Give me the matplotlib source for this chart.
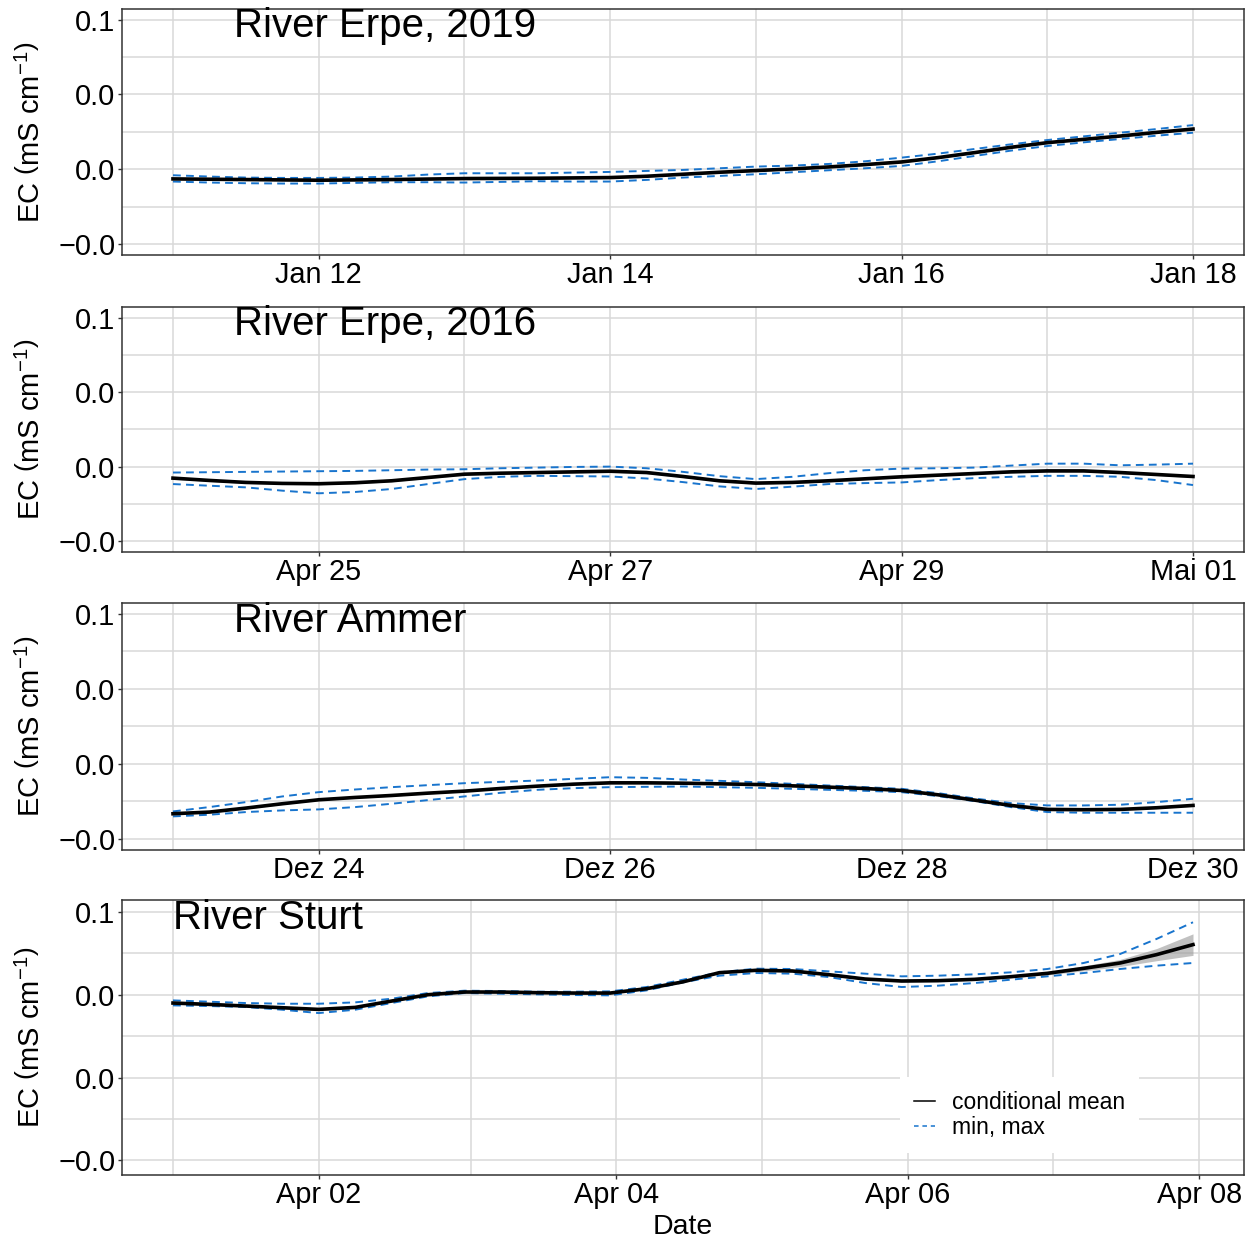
import matplotlib
matplotlib.use("Agg")
import matplotlib.pyplot as plt
from matplotlib.lines import Line2D

plt.rcParams["font.family"] = ["Liberation Sans", "DejaVu Sans"]
plt.rcParams["mathtext.fontset"] = "custom"
plt.rcParams["mathtext.rm"] = "Liberation Sans"
plt.rcParams["mathtext.it"] = "Liberation Sans:italic"
plt.rcParams["mathtext.bf"] = "Liberation Sans:bold"

# ---- time axis: hours since start of each record, 6-hourly values ----
hours = [0, 6, 12, 18, 24, 30, 36, 42, 48, 54, 60, 66, 72, 78, 84, 90, 96,
         102, 108, 114, 120, 126, 132, 138, 144, 150, 156, 162, 168]

# ---- River Erpe, 2019 ----
erpe19_mean = [-0.00387, -0.00400, -0.00413, -0.00427, -0.00440, -0.00427, -0.00413, -0.00393,
               -0.00373, -0.00367, -0.00360, -0.00347, -0.00333, -0.00280, -0.00200, -0.00120,
               -0.00053, 0.00013, 0.00093, 0.00187, 0.00293, 0.00467, 0.00667, 0.00880,
               0.01067, 0.01200, 0.01333, 0.01480, 0.01613]
erpe19_max = [-0.00240, -0.00293, -0.00333, -0.00347, -0.00347, -0.00333, -0.00293, -0.00213,
              -0.00160, -0.00160, -0.00160, -0.00133, -0.00107, -0.00067, -0.00027, 0.00040,
              0.00107, 0.00147, 0.00213, 0.00320, 0.00467, 0.00627, 0.00813, 0.01000,
              0.01173, 0.01320, 0.01467, 0.01613, 0.01773]
erpe19_min = [-0.00493, -0.00533, -0.00560, -0.00573, -0.00573, -0.00547, -0.00520, -0.00520,
              -0.00533, -0.00507, -0.00480, -0.00493, -0.00493, -0.00427, -0.00333, -0.00267,
              -0.00200, -0.00120, -0.00040, 0.00040, 0.00133, 0.00320, 0.00533, 0.00747,
              0.00933, 0.01080, 0.01213, 0.01347, 0.01467]
erpe19_se = [0.0003] * 29

# ---- River Erpe, 2016 ----
erpe16_mean = [-0.00464, -0.00557, -0.00637, -0.00677, -0.00690, -0.00650, -0.00571, -0.00438,
               -0.00305, -0.00265, -0.00239, -0.00212, -0.00186, -0.00239, -0.00398, -0.00571,
               -0.00664, -0.00637, -0.00571, -0.00491, -0.00411, -0.00345, -0.00279, -0.00212,
               -0.00173, -0.00173, -0.00239, -0.00318, -0.00398]
erpe16_max = [-0.00239, -0.00226, -0.00212, -0.00199, -0.00186, -0.00173, -0.00146, -0.00119,
              -0.00106, -0.00066, -0.00040, -0.00013, 0.00000, -0.00066, -0.00212, -0.00385,
              -0.00504, -0.00411, -0.00265, -0.00146, -0.00080, -0.00066, -0.00040, 0.00040,
              0.00119, 0.00119, 0.00053, 0.00080, 0.00119]
erpe16_min = [-0.00703, -0.00770, -0.00836, -0.00969, -0.01075, -0.01022, -0.00902, -0.00703,
              -0.00504, -0.00411, -0.00372, -0.00385, -0.00398, -0.00478, -0.00624, -0.00796,
              -0.00902, -0.00809, -0.00703, -0.00664, -0.00637, -0.00544, -0.00464, -0.00411,
              -0.00372, -0.00372, -0.00411, -0.00544, -0.00743]
erpe16_se = [0.0004] * 29

# ---- River Ammer ----
ammer_mean = [-0.01991, -0.01924, -0.01765, -0.01592, -0.01433, -0.01340, -0.01261, -0.01168,
              -0.01088, -0.00982, -0.00889, -0.00809, -0.00756, -0.00756, -0.00770, -0.00796,
              -0.00823, -0.00876, -0.00929, -0.00982, -0.01062, -0.01234, -0.01446, -0.01659,
              -0.01818, -0.01831, -0.01818, -0.01752, -0.01659]
ammer_max = [-0.01898, -0.01725, -0.01526, -0.01300, -0.01128, -0.01022, -0.00929, -0.00849,
             -0.00770, -0.00717, -0.00664, -0.00597, -0.00531, -0.00557, -0.00624, -0.00677,
             -0.00730, -0.00796, -0.00863, -0.00929, -0.00995, -0.01168, -0.01380, -0.01566,
             -0.01659, -0.01659, -0.01632, -0.01526, -0.01393]
ammer_min = [-0.02097, -0.02030, -0.01924, -0.01858, -0.01818, -0.01725, -0.01592, -0.01446,
             -0.01300, -0.01154, -0.01035, -0.00969, -0.00929, -0.00916, -0.00902, -0.00929,
             -0.00955, -0.00995, -0.01035, -0.01075, -0.01128, -0.01287, -0.01486, -0.01725,
             -0.01924, -0.01951, -0.01951, -0.01951, -0.01951]
ammer_se = [0.0003] * 29

# ---- River Sturt ----
sturt_mean = [0.02698, 0.02649, 0.02589, 0.02528, 0.02468, 0.02540, 0.02770, 0.03000,
              0.03097, 0.03097, 0.03073, 0.03060, 0.03060, 0.03218, 0.03466, 0.03798,
              0.03883, 0.03859, 0.03726, 0.03568, 0.03496, 0.03508, 0.03556, 0.03653,
              0.03774, 0.03955, 0.04149, 0.04451, 0.04814]
sturt_max = [0.02794, 0.02746, 0.02698, 0.02673, 0.02673, 0.02722, 0.02855, 0.03060,
             0.03145, 0.03133, 0.03109, 0.03109, 0.03121, 0.03278, 0.03544, 0.03810,
             0.03943, 0.03931, 0.03846, 0.03762, 0.03665, 0.03689, 0.03738, 0.03810,
             0.03931, 0.04149, 0.04475, 0.05020, 0.05624]
sturt_min = [0.02613, 0.02589, 0.02553, 0.02456, 0.02335, 0.02456, 0.02698, 0.02940,
             0.03060, 0.03036, 0.03012, 0.02988, 0.02976, 0.03157, 0.03447, 0.03689,
             0.03786, 0.03762, 0.03641, 0.03423, 0.03278, 0.03327, 0.03423, 0.03544,
             0.03665, 0.03786, 0.03931, 0.04052, 0.04149]
sturt_se = [0.0003, 0.0003, 0.0003, 0.0003, 0.0003, 0.0003, 0.0003, 0.0003,
            0.0003, 0.0003, 0.0003, 0.0003, 0.0003, 0.0003, 0.0003, 0.0003,
            0.0003, 0.0003, 0.0003, 0.0003, 0.0003, 0.0003, 0.0003, 0.0004,
            0.0006, 0.0009, 0.0013, 0.0022, 0.0039]

# ---- titles and tick labels ----
titles = ["River Erpe, 2019", "River Erpe, 2016", "River Ammer", "River Sturt"]
date_labels = [
    ["Jan 12", "Jan 14", "Jan 16", "Jan 18"],
    ["Apr 25", "Apr 27", "Apr 29", "Mai 01"],
    ["Dez 24", "Dez 26", "Dez 28", "Dez 30"],
    ["Apr 02", "Apr 04", "Apr 06", "Apr 08"],
]
# local midnights in hours since start (the Sturt record spans a 25 h day)
major_hours = [[24, 72, 120, 168], [24, 72, 120, 168], [24, 72, 120, 168], [24, 73, 121, 169]]
minor_hours = [[0, 48, 96, 144], [0, 48, 96, 144], [0, 48, 96, 144], [0, 49, 97, 145]]
y_ticks = [-0.03, 0.0, 0.03, 0.06]
y_tick_labels = ["\u22120.0", "0.0", "0.0", "0.1"]
y_minor = [-0.015, 0.015, 0.045]

series = [
    (erpe19_mean, erpe19_min, erpe19_max, erpe19_se),
    (erpe16_mean, erpe16_min, erpe16_max, erpe16_se),
    (ammer_mean, ammer_min, ammer_max, ammer_se),
    (sturt_mean, sturt_min, sturt_max, sturt_se),
]

W, H = 1250, 1238
fig = plt.figure(figsize=(W / 100, H / 100), dpi=100)

# panel boxes in pixels: (left, top, right, bottom)
boxes = [(122, 9, 1244, 255), (122, 307, 1244, 552), (122, 603, 1244, 850), (122, 900, 1244, 1175)]
ylims = [(-0.0344, 0.0643), (-0.0344, 0.0643), (-0.0344, 0.0643), (-0.0353, 0.0643)]
title_pos = [(0.0998, 0.887), (0.0998, 0.887), (0.0998, 0.883), (0.0456, 0.895)]

BLUE = "#1874CD"
GRID = "#D9D9D9"
DARK = "#333333"

axes = []
for i, (l, t, r, b) in enumerate(boxes):
    ax = fig.add_axes([l / W, 1 - b / H, (r - l) / W, (b - t) / H])
    mean, lo, hi, se = series[i]
    band_lo = [m - s for m, s in zip(mean, se)]
    band_hi = [m + s for m, s in zip(mean, se)]
    ax.fill_between(hours, band_lo, band_hi, color="#999999", alpha=0.6, lw=0, zorder=2)
    ax.plot(hours, hi, color=BLUE, lw=1.4, ls=(0, (4, 2.7)), zorder=3)
    ax.plot(hours, lo, color=BLUE, lw=1.4, ls=(0, (4, 2.7)), zorder=3)
    ax.plot(hours, mean, color="black", lw=2.6, zorder=4, solid_joinstyle="round")

    ax.set_xlim(-8.4, 176.4)
    ax.set_ylim(*ylims[i])
    ax.set_xticks(major_hours[i])
    ax.set_xticklabels(date_labels[i])
    ax.set_xticks(minor_hours[i], minor=True)
    ax.set_yticks(y_ticks)
    ax.set_yticklabels(y_tick_labels)
    ax.set_yticks(y_minor, minor=True)
    ax.grid(which="both", color=GRID, lw=1.1)
    ax.set_axisbelow(True)
    ax.tick_params(which="major", length=2.6, width=1.0, color=DARK,
                   labelsize=20.8, labelcolor="black", pad=2.3)
    ax.tick_params(axis="x", which="major", pad=1.5)
    ax.tick_params(which="minor", length=0)
    for sp in ax.spines.values():
        sp.set_color(DARK)
        sp.set_linewidth(1.1)
    ax.set_ylabel(r"EC $\left(\mathrm{mS\ cm^{-1}}\right)$", fontsize=21)
    ax.yaxis.set_label_coords(-0.068, 0.5)
    ax.text(title_pos[i][0], title_pos[i][1], titles[i], transform=ax.transAxes,
            fontsize=29, ha="left", va="baseline", color="black", zorder=6)
    axes.append(ax)

handles = [Line2D([], [], color="black", lw=1.1),
           Line2D([], [], color=BLUE, lw=1.1, ls=(0, (3, 2.5)))]
leg = axes[3].legend(handles, ["conditional mean", "min, max"], loc="center",
                     bbox_to_anchor=(0.800, 0.218), frameon=True, facecolor="white",
                     edgecolor="none", framealpha=1, fancybox=False, fontsize=16.5,
                     handlelength=0.9, handletextpad=0.75, labelspacing=0.1, borderpad=0.6)
leg.set_zorder(5)

fig.text(683 / W, 1 - 1234 / H, "Date", fontsize=20.5, ha="center", va="baseline")

fig.savefig("out.png", dpi=100)
